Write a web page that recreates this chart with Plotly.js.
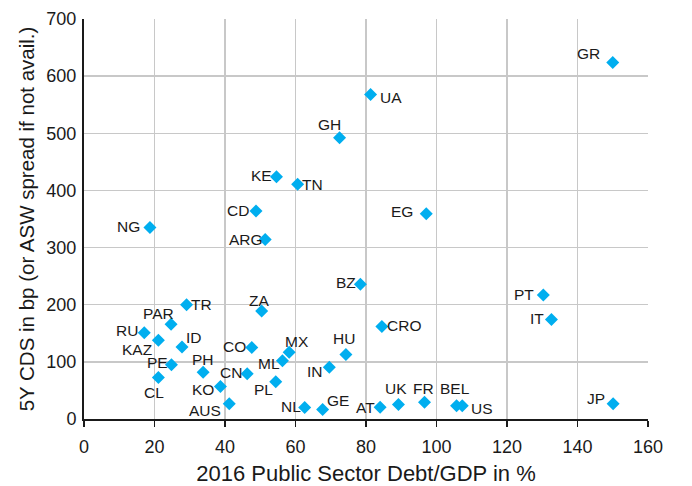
<!DOCTYPE html>
<html>
<head>
<meta charset="utf-8">
<script src="https://cdn.plot.ly/plotly-3.0.1.min.js"></script>
<style>html,body{margin:0;padding:0;background:#fff;}</style>
</head>
<body>
<div id="chart" style="width:692px;height:486px;"></div>
<script>
const countries = ["GR","UA","GH","KE","TN","CD","ARG","NG","EG","BZ","TR","ZA","PAR","RU","KAZ","ID","CO","PE","PH","CN","CL","KO","PL","AUS","ML","MX","HU","IN","CRO","NL","GE","AT","UK","FR","BEL","US","PT","IT","JP"];
const debtGdp = [150,81.3,72.5,54.6,60.6,48.8,51.4,18.7,97.1,78.4,29.1,50.4,24.7,17.1,21.1,27.8,47.6,24.8,33.8,46.3,21.1,38.7,54.4,41.2,56.3,58.2,74.3,69.6,84.5,62.6,67.7,84.0,89.2,96.6,105.7,107.3,130.3,132.6,150.1];
const cds = [624,568,492,424,411,364,314,335,359,236,200,189,166,151,138,126,125,95,82,79,72.5,57,65,26.6,102,117,113,90.5,162,20,16.6,20.7,25.3,29.4,23,23,217,174,26.5];
// label offsets from marker, in screen pixels [dx, dy (down)]
const labelOffset = [[-24,-9],[20,3],[-10,-13],[-15,-1],[15,0],[-18,-1],[-19.5,0],[-21,-1],[-24,-2],[-14,-1.5],
  [14.5,0],[-3,-11],[-13,-11],[-17,-2],[-21,9],[12,-10],[-17.5,-1],[-14,-2.5],[0,-12.7],[-16,-1.6],
  [-4,15],[-17,3],[-12,8],[-24,7],[-13,3],[8,-11],[-2,-16],[-14,4],[22.5,-1],[-14,-1],
  [15,-9],[-14.5,0.7],[-2.5,-16],[-1,-14],[-2,-17],[20,3],[-19,-1],[-14.5,-1],[-17,-5]];

const trace = {
  type: "scatter",
  mode: "markers",
  x: debtGdp,
  y: cds,
  text: countries,
  marker: {symbol: "diamond", size: 10, color: "#00aeef"},
  cliponaxis: false,
  hoverinfo: "x+y+text"
};

const annotations = countries.map((c, i) => ({
  x: debtGdp[i], y: cds[i], xref: "x", yref: "y",
  text: c, showarrow: false,
  xanchor: "center", yanchor: "middle",
  xshift: labelOffset[i][0], yshift: -labelOffset[i][1],
  font: {family: "Liberation Sans, Arial, sans-serif", size: 15.5, color: "#1a1a1a"}
}));

const layout = {
  width: 692, height: 486,
  margin: {l: 84, r: 44, t: 19, b: 67},
  paper_bgcolor: "#fff", plot_bgcolor: "#fff",
  showlegend: false,
  font: {family: "Liberation Sans, Arial, sans-serif", color: "#1a1a1a"},
  annotations: annotations,
  xaxis: {
    range: [0, 160], dtick: 20, tick0: 0,
    showgrid: true, gridcolor: "#c8c8c8", gridwidth: 1.3,
    zeroline: false,
    showline: true, linecolor: "#1a1a1a", linewidth: 2,
    ticks: "outside", ticklen: 6, tickwidth: 1.5, tickcolor: "#1a1a1a",
    tickfont: {size: 18},
    ticklabelstandoff: 4,
    title: {text: "2016 Public Sector Debt/GDP in %", font: {size: 22}, standoff: 15}
  },
  yaxis: {
    range: [0, 700], dtick: 100, tick0: 0,
    showgrid: true, gridcolor: "#c8c8c8", gridwidth: 1.3,
    zeroline: false,
    showline: true, linecolor: "#1a1a1a", linewidth: 2,
    ticks: "", ticklabelstandoff: 2,
    tickfont: {size: 18},
    title: {text: "5Y CDS in bp (or ASW spread if not avail.)", font: {size: 20.5}, standoff: 6}
  }
};

Plotly.newPlot("chart", [trace], layout, {displayModeBar: false, staticPlot: true});
</script>
</body>
</html>
